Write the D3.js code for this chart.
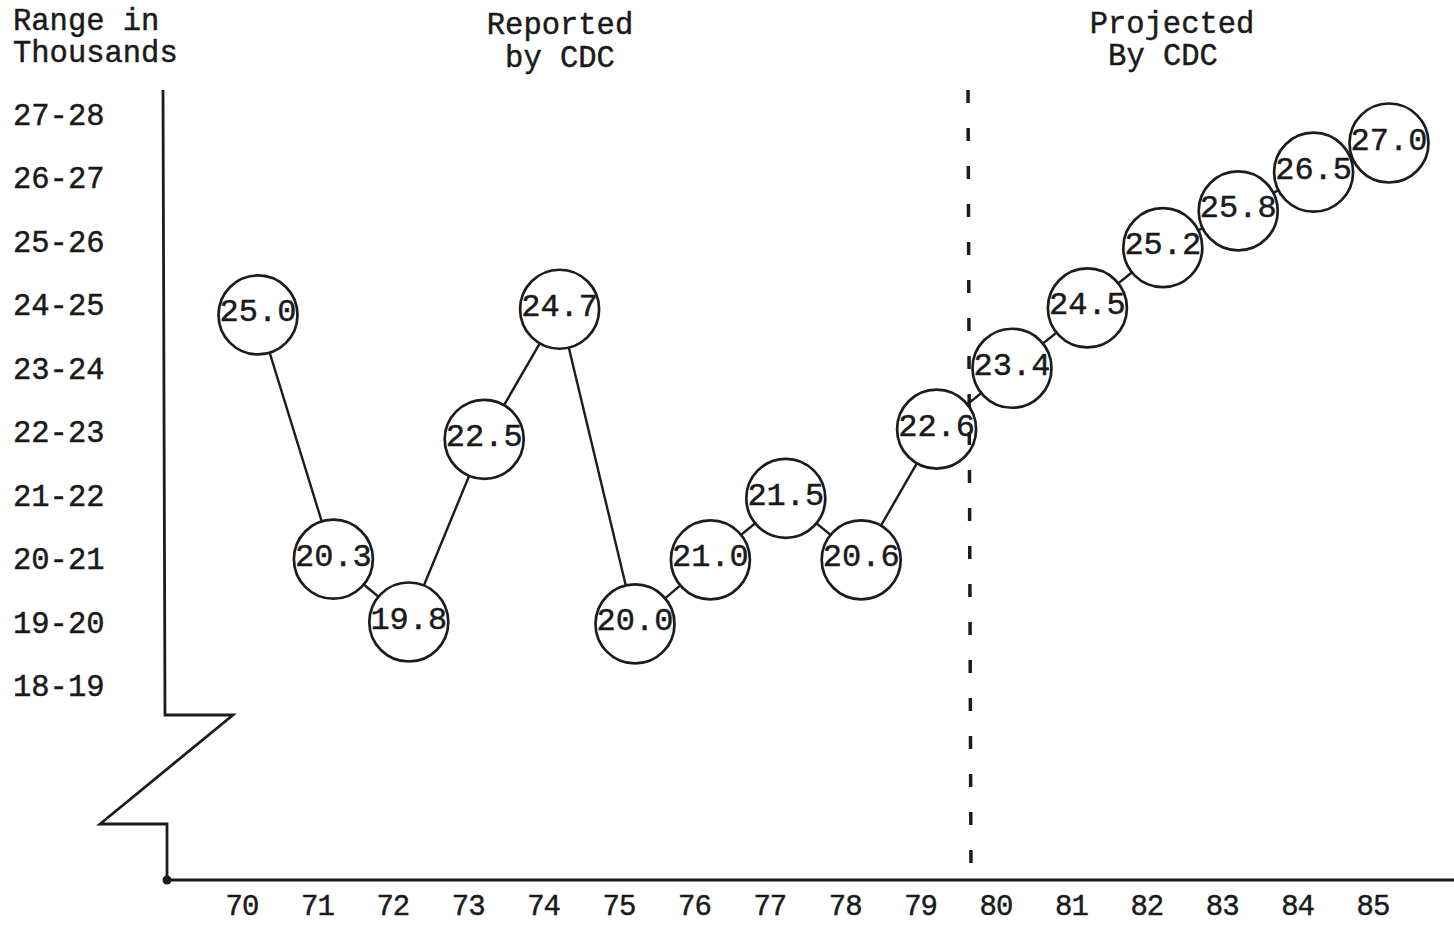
<!DOCTYPE html>
<html>
<head>
<meta charset="utf-8">
<script src="https://cdn.jsdelivr.net/npm/d3@7"></script>
<style>
  html, body { margin: 0; padding: 0; background: #fff; }
  svg { display: block; }
  text { font-family: "Liberation Mono", "DejaVu Sans Mono", monospace; fill: #1a1a1a; stroke: #1a1a1a; stroke-width: 0.45; }
</style>
</head>
<body>
<svg id="chart" width="1454" height="925"></svg>
<script>
// ---- data ----
const years = [70, 71, 72, 73, 74, 75, 76, 77, 78, 79, 80, 81, 82, 83, 84, 85];
const valueLabels = ["25.0", "20.3", "19.8", "22.5", "24.7", "20.0", "21.0", "21.5", "20.6", "22.6",
                     "23.4", "24.5", "25.2", "25.8", "26.5", "27.0"];
// level at which each circle is drawn on the "range in thousands" axis
const plotLevel = [24.38, 20.53, 19.54, 22.42, 24.47, 19.51, 20.52, 21.49, 20.52, 22.58,
                   23.54, 24.49, 25.44, 26.02, 26.63, 27.09];
const rangeLabels = ["27-28", "26-27", "25-26", "24-25", "23-24", "22-23", "21-22", "20-21", "19-20", "18-19"];
const rangeMids = [27.5, 26.5, 25.5, 24.5, 23.5, 22.5, 21.5, 20.5, 19.5, 18.5];
const dividerYear = 79.43;
const headerLeft = ["Range in", "Thousands"];
const headerReported = ["Reported", "by CDC"];
const headerProjected = ["Projected", "By CDC"];

const points = years.map((yr, i) => ({ year: yr, label: valueLabels[i], level: plotLevel[i] }));

// ---- scales ----
const x = d3.scaleLinear().domain([70, 85]).range([258, 1389]);
const y = d3.scaleLinear().domain([18.5, 27.5]).range([688, 117]);

const svg = d3.select("#chart");
const ink = "#1c1c1c";

// headers
svg.selectAll("text.hl").data(headerLeft).join("text")
  .attr("class", "hl")
  .attr("x", 13).attr("y", (d, i) => 22 + i * 32)
  .attr("dominant-baseline", "central")
  .attr("font-size", 30.5)
  .text(d => d);

svg.selectAll("text.hr").data(headerReported).join("text")
  .attr("class", "hr")
  .attr("x", 560).attr("y", (d, i) => 26 + i * 33)
  .attr("text-anchor", "middle")
  .attr("dominant-baseline", "central")
  .attr("font-size", 30.5)
  .text(d => d);

svg.selectAll("text.hp").data(headerProjected).join("text")
  .attr("class", "hp")
  .attr("x", (d, i) => i === 0 ? 1172 : 1163).attr("y", (d, i) => 25 + i * 32)
  .attr("text-anchor", "middle")
  .attr("dominant-baseline", "central")
  .attr("font-size", 30.5)
  .text(d => d);

// y range labels
svg.selectAll("text.yl").data(rangeLabels).join("text")
  .attr("class", "yl")
  .attr("x", 13)
  .attr("y", (d, i) => y(rangeMids[i]))
  .attr("dominant-baseline", "central")
  .attr("font-size", 30.5)
  .text(d => d);

// axes with broken-axis zigzag
const axisPath = d3.path();
axisPath.moveTo(163, 90);
axisPath.lineTo(165, 715);
axisPath.lineTo(233, 715);
axisPath.lineTo(100, 824);
axisPath.lineTo(167, 824);
axisPath.lineTo(167, 880);
axisPath.lineTo(1454, 880);
svg.append("path")
  .attr("d", axisPath.toString())
  .attr("fill", "none")
  .attr("stroke", ink)
  .attr("stroke-width", 2.8)
  .attr("stroke-linejoin", "miter");
svg.append("circle").attr("cx", 167).attr("cy", 880).attr("r", 4.5).attr("fill", ink);

// x tick labels
svg.selectAll("text.xl").data(years).join("text")
  .attr("class", "xl")
  .attr("x", d => x(d) - 16)
  .attr("y", 907)
  .attr("text-anchor", "middle")
  .attr("dominant-baseline", "central")
  .attr("font-size", 29)
  .attr("letter-spacing", -1)
  .text(d => d);

// connecting line
const line = d3.line().x(d => x(d.year)).y(d => y(d.level));
svg.append("path")
  .datum(points)
  .attr("d", line)
  .attr("fill", "none")
  .attr("stroke", ink)
  .attr("stroke-width", 2.4);

// circles
svg.selectAll("circle.pt").data(points).join("circle")
  .attr("class", "pt")
  .attr("cx", d => x(d.year))
  .attr("cy", d => y(d.level))
  .attr("r", 39.5)
  .attr("fill", "#fff")
  .attr("stroke", ink)
  .attr("stroke-width", 2.7);

// divider (dashed)
svg.append("line")
  .attr("x1", x(dividerYear) - 1).attr("x2", x(dividerYear) + 2)
  .attr("y1", 90).attr("y2", 880)
  .attr("stroke", ink)
  .attr("stroke-width", 3.5)
  .attr("stroke-dasharray", "13 25");

// circle labels
svg.selectAll("text.pl").data(points).join("text")
  .attr("class", "pl")
  .attr("x", d => x(d.year))
  .attr("y", d => y(d.level) - 2)
  .attr("text-anchor", "middle")
  .attr("dominant-baseline", "central")
  .attr("font-size", 32)
  .text(d => d.label);
</script>
</body>
</html>
